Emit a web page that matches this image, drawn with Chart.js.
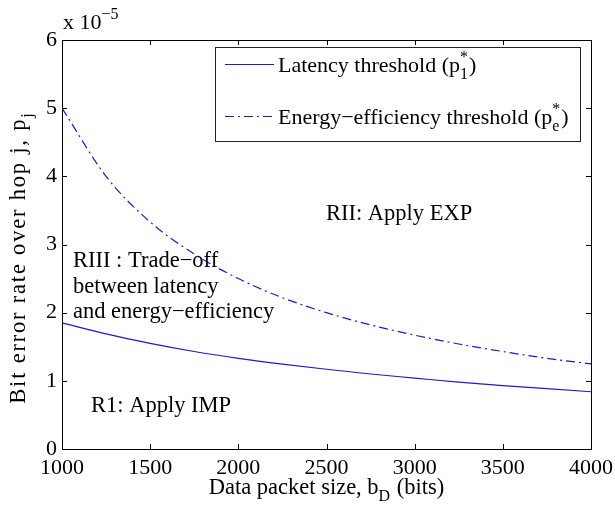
<!DOCTYPE html>
<html>
<head>
<meta charset="utf-8">
<script src="https://cdn.jsdelivr.net/npm/chart.js@4.4.0/dist/chart.umd.min.js"></script>
<style>
  html, body { margin: 0; padding: 0; background: #fff; }
  #wrap { width: 615px; height: 508px; position: relative; }
</style>
</head>
<body>
<div id="wrap"><canvas id="ber"></canvas></div>
<script>
// values (BER in units of 1e-5)
const packetSizes = [1000, 1250, 1500, 1750, 2000, 2250, 2500, 2750, 3000, 3250, 3500, 3750, 4000];
const latencyThreshold = [1.85, 1.69, 1.55, 1.43, 1.33, 1.245, 1.17, 1.10, 1.04, 0.98, 0.93, 0.885, 0.84];
const energyThreshold = [5.0, 4.0, 3.33, 2.86, 2.5, 2.22, 2.0, 1.82, 1.67, 1.54, 1.43, 1.33, 1.25];
const xTickValues = [1000, 1500, 2000, 2500, 3000, 3500, 4000];
const yTickValues = [0, 1, 2, 3, 4, 5, 6];

const FONT = '"Liberation Serif", "Times New Roman", serif';
const LINE_BLUE = '#1c1cc8';
const TXT = 22.5;

// draws text with sub/superscript pieces; parts: strings or {sub, sup}
const drawRich = (ctx, x, y, parts, size, align, spacing) => {
  const sp = spacing || 0;
  const small = Math.round(size * 0.72);
  const strW = (s) => {
    let w = 0;
    for (const ch of s) w += ctx.measureText(ch).width + sp;
    return w;
  };
  const widths = parts.map(p => {
    if (typeof p === 'string') {
      ctx.font = size + 'px ' + FONT;
      return sp ? strW(p) : ctx.measureText(p).width;
    }
    ctx.font = small + 'px ' + FONT;
    return Math.max(p.sub ? ctx.measureText(p.sub).width : 0, p.sup ? ctx.measureText(p.sup).width : 0) + 1;
  });
  const total = widths.reduce((a, b) => a + b, 0);
  let cx = align === 'center' ? x - total / 2 : x;
  ctx.textAlign = 'left';
  ctx.textBaseline = 'alphabetic';
  parts.forEach((p, i) => {
    if (typeof p === 'string') {
      ctx.font = size + 'px ' + FONT;
      if (sp) {
        let px = cx;
        for (const ch of p) { ctx.fillText(ch, px, y); px += ctx.measureText(ch).width + sp; }
      } else {
        ctx.fillText(p, cx, y);
      }
    } else {
      ctx.font = small + 'px ' + FONT;
      if (p.sub) ctx.fillText(p.sub, cx, y + size * 0.33);
      if (p.sup) ctx.fillText(p.sup, cx, y - size * 0.45);
    }
    cx += widths[i];
  });
};

const matlabLook = {
  id: 'matlabLook',
  beforeDatasetsDraw(chart) {
    const {ctx, chartArea: a, scales: {x, y}} = chart;
    ctx.save();
    ctx.strokeStyle = '#000';
    ctx.lineWidth = 1;
    ctx.strokeRect(Math.round(a.left) + 0.5, Math.round(a.top) + 0.5, Math.round(a.right - a.left), Math.round(a.bottom - a.top));
    ctx.beginPath();
    xTickValues.forEach(v => {
      const px = Math.round(x.getPixelForValue(v)) + 0.5;
      ctx.moveTo(px, a.bottom); ctx.lineTo(px, a.bottom - 5);
      ctx.moveTo(px, a.top); ctx.lineTo(px, a.top + 5);
    });
    yTickValues.forEach(v => {
      const py = Math.round(y.getPixelForValue(v)) + 0.5;
      ctx.moveTo(a.left, py); ctx.lineTo(a.left + 5, py);
      ctx.moveTo(a.right, py); ctx.lineTo(a.right - 5, py);
    });
    ctx.stroke();
    ctx.restore();
  },
  afterDraw(chart) {
    const {ctx, chartArea: a} = chart;
    ctx.save();
    ctx.fillStyle = '#000';

    // exponent
    drawRich(ctx, 63, 29, ['x 10', {sup: '\u22125'}], 22);

    // axis titles
    drawRich(ctx, (a.left + a.right) / 2, 494, ['Data packet size, b', {sub: 'D'}, ' (bits)'], TXT, 'center');
    ctx.save();
    ctx.translate(25, 258);
    ctx.rotate(-Math.PI / 2);
    drawRich(ctx, 0, 0, ['Bit error rate over hop j, p', {sub: 'j'}], TXT, 'center', 1.8);
    ctx.restore();

    // region notes
    ctx.font = TXT + 'px ' + FONT;
    ctx.textAlign = 'left';
    ctx.textBaseline = 'alphabetic';
    ctx.fillText('RII: Apply EXP', 326, 220);
    ctx.fillText('RIII : Trade\u2212off', 73, 267);
    ctx.fillText('between latency', 73, 293);
    ctx.fillText('and energy\u2212efficiency', 73, 318);
    ctx.fillText('R1: Apply IMP', 91, 412);

    // legend
    const lx = 215, ly = 47, lw = 365, lh = 94;
    ctx.fillStyle = '#fff';
    ctx.fillRect(lx, ly, lw, lh);
    ctx.strokeStyle = '#222';
    ctx.lineWidth = 1;
    ctx.strokeRect(lx + 0.5, ly + 0.5, lw, lh);
    const ds = chart.data.datasets;
    const rows = [
      {y: 64, parts: ['Latency threshold (p', {sub: '1', sup: '*'}, ')']},
      {y: 116, parts: ['Energy\u2212efficiency threshold (p', {sub: 'e', sup: '*'}, ')']}
    ];
    rows.forEach((r, i) => {
      ctx.strokeStyle = ds[i].borderColor;
      ctx.lineWidth = ds[i].borderWidth;
      ctx.setLineDash(ds[i].borderDash || []);
      ctx.beginPath();
      ctx.moveTo(225, r.y + 0.5);
      ctx.lineTo(274, r.y + 0.5);
      ctx.stroke();
      ctx.setLineDash([]);
      ctx.fillStyle = '#000';
      drawRich(ctx, 278, r.y + 8, r.parts, 22);
    });
    ctx.restore();
  }
};

new Chart(document.getElementById('ber'), {
  type: 'line',
  data: {
    datasets: [
      {
        label: 'Latency threshold',
        data: packetSizes.map((b, i) => ({x: b, y: latencyThreshold[i]})),
        borderColor: LINE_BLUE,
        borderWidth: 1.2,
        pointRadius: 0,
        cubicInterpolationMode: 'monotone',
        fill: false
      },
      {
        label: 'Energy-efficiency threshold',
        data: packetSizes.map((b, i) => ({x: b, y: energyThreshold[i]})),
        borderColor: LINE_BLUE,
        borderWidth: 1.2,
        borderDash: [9, 4, 2, 4],
        pointRadius: 0,
        cubicInterpolationMode: 'monotone',
        fill: false
      }
    ]
  },
  options: {
    responsive: true,
    maintainAspectRatio: false,
    animation: false,
    layout: {padding: {top: 40, right: 24, left: 0, bottom: 0}},
    plugins: {
      legend: {display: false},
      tooltip: {enabled: false}
    },
    scales: {
      x: {
        type: 'linear',
        min: 1000,
        max: 4000,
        afterBuildTicks: s => { s.ticks = xTickValues.map(v => ({value: v})); },
        afterFit: s => { s.height = 59; s.paddingLeft = 0; s.paddingRight = 0; },
        grid: {display: false, drawTicks: false},
        border: {display: false},
        ticks: {color: '#000', padding: 6, maxRotation: 0, font: {family: FONT, size: 22},
          callback: v => String(v)}
      },
      y: {
        type: 'linear',
        min: 0,
        max: 6,
        afterBuildTicks: s => { s.ticks = yTickValues.map(v => ({value: v})); },
        afterFit: s => { s.width = 62; s.paddingTop = 0; s.paddingBottom = 0; },
        grid: {display: false, drawTicks: false},
        border: {display: false},
        ticks: {color: '#000', padding: 5, font: {family: FONT, size: 22}, callback: v => String(v)}
      }
    }
  },
  plugins: [matlabLook]
});
</script>
</body>
</html>
